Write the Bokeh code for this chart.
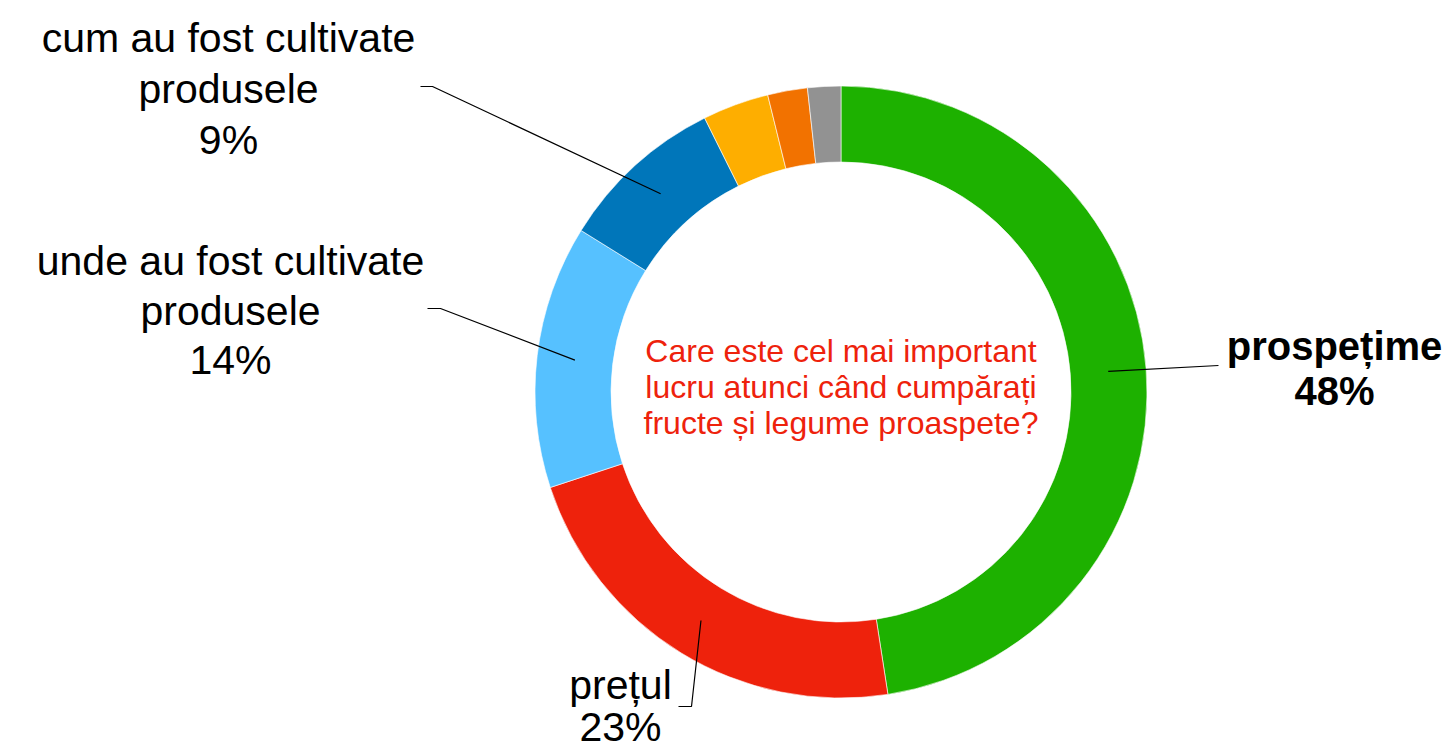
import math
from bokeh.plotting import figure
from bokeh.models import Range1d, ColumnDataSource
from bokeh.core.properties import value
from bokeh.embed import file_html
from bokeh.resources import INLINE

# ---- data ----
categories = ["prospețime", "prețul", "unde au fost cultivate produsele",
              "cum au fost cultivate produsele", "altele 1", "altele 2", "altele 3"]
shares = [47.55, 22.4, 13.9, 8.8, 3.5, 2.1, 1.75]
colors = ["#1DB100", "#EE220C", "#56C1FF", "#0076BA", "#FEAE00", "#F27200", "#929292"]
label_lines = [["prospețime", "48%"], ["prețul", "23%"],
               ["unde au fost cultivate", "produsele", "14%"],
               ["cum au fost cultivate", "produsele", "9%"]]
label_bold = [True, False, False, False]
center_title = ["Care este cel mai important", "lucru atunci când cumpărați",
                "fructe și legume proaspete?"]

W, H = 1444, 751
def X(px):
    return px
def Y(py):
    return H - py

cx, cy = X(840.5), Y(391.5)
r_in, r_out = 230, 306

p = figure(width=W, height=H, output_backend="svg", toolbar_location=None,
           x_range=Range1d(0, W), y_range=Range1d(0, H), min_border=0)
p.axis.visible = False
p.grid.visible = False
p.outline_line_color = None
p.background_fill_color = "white"

total = sum(shares)
starts, ends, mids = [], [], []
cum = 0.0
for s in shares:
    a0 = math.pi / 2 - 2 * math.pi * cum / total
    cum += s
    a1 = math.pi / 2 - 2 * math.pi * cum / total
    starts.append(a0); ends.append(a1); mids.append((a0 + a1) / 2)

src = ColumnDataSource(dict(x=[cx] * len(shares), y=[cy] * len(shares),
                            start=starts, end=ends, color=colors))
p.annular_wedge(x="x", y="y", inner_radius=r_in, outer_radius=r_out,
                start_angle="start", end_angle="end", direction="clock",
                fill_color="color", line_color="white", line_width=0.6, source=src)

# leader lines: from mid-ring point of slice to label anchor
r_mid = (r_in + r_out) / 2
anchors = [
    [(1218, 365)],
    [(691, 706), (678, 706)],
    [(440, 308), (427, 308)],
    [(432, 86), (420, 86)],
]
for i, pts in enumerate(anchors):
    a = mids[i]
    xs = [cx + r_mid * math.cos(a)] + [X(px) for px, _ in pts]
    ys = [cy + r_mid * math.sin(a)] + [Y(py) for _, py in pts]
    p.line(xs, ys, line_color="black", line_width=1.2)

# labels
label_pos = [(1334, [345, 390]), (620, [684, 726]),
             (230, [260, 310, 359]), (228, [37, 88, 139])]
for i, (lx, ys) in enumerate(label_pos):
    p.text(x=[X(lx)] * len(ys), y=[Y(v) for v in ys], text=label_lines[i],
           text_align="center", text_baseline="middle",
           text_font=value("Liberation Sans"),
           text_font_size="40px" if label_bold[i] else "41px",
           text_font_style="bold" if label_bold[i] else "normal",
           text_color="black")

p.text(x=[cx] * 3, y=[Y(v) for v in [350, 386, 422]], text=center_title,
       text_align="center", text_baseline="middle",
       text_font=value("Liberation Sans"), text_font_size="32px",
       text_color="#EE220C")

open("out.html", "w").write(file_html(p, INLINE))
